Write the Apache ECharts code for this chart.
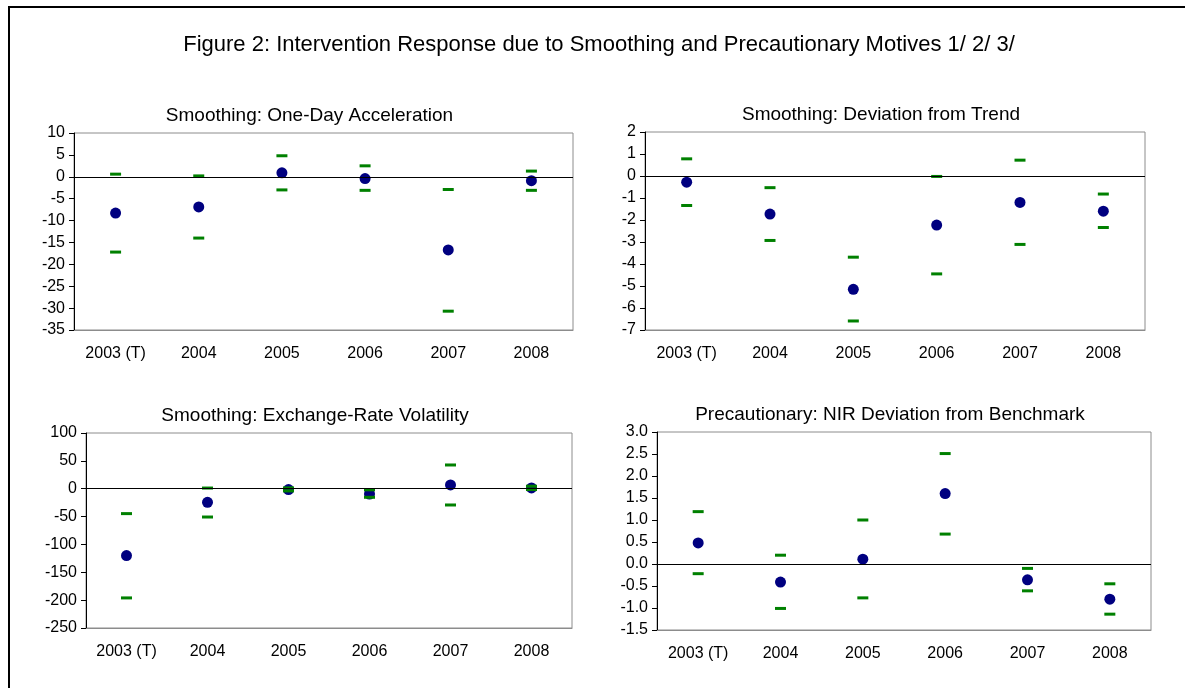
<!DOCTYPE html>
<html>
<head>
<meta charset="utf-8">
<title>Figure 2: Intervention Response</title>
<script src="https://cdn.jsdelivr.net/npm/echarts@6/dist/echarts.min.js"></script>
<style>
  html, body { margin: 0; padding: 0; background: #fff; }
  #chart { width: 1185px; height: 688px; }
</style>
</head>
<body>
<div id="chart"></div>
<script>
const years = ["2003 (T)", "2004", "2005", "2006", "2007", "2008"];

// Smoothing: One-Day Acceleration
const accelPoint = [-8.3, -6.9, 0.9, -0.4, -16.7, -0.9];
const accelUpper = [0.6, 0.2, 4.8, 2.5, -2.9, 1.3];
const accelLower = [-17.2, -14.0, -3.0, -3.1, -30.7, -3.1];

// Smoothing: Deviation from Trend
const trendPoint = [-0.28, -1.73, -5.15, -2.23, -1.2, -1.6];
const trendUpper = [0.78, -0.53, -3.69, -0.02, 0.72, -0.82];
const trendLower = [-1.34, -2.93, -6.59, -4.45, -3.11, -2.34];

// Smoothing: Exchange-Rate Volatility
const volPoint = [-120, -24.4, -1.5, -9.5, 6.7, 1.5];
const volUpper = [-44.7, 1.2, 1.5, -2, 42.6, 4.5];
const volLower = [-196, -50.8, -4, -15.4, -29.2, -1.5];

// Precautionary: NIR Deviation from Benchmark
const nirPoint = [0.48, -0.41, 0.11, 1.6, -0.36, -0.8];
const nirUpper = [1.19, 0.2, 1.0, 2.51, -0.1, -0.45];
const nirLower = [-0.22, -1.01, -0.77, 0.68, -0.61, -1.14];

const panels = [
  { title: "Smoothing: One-Day Acceleration", point: accelPoint, upper: accelUpper, lower: accelLower,
    min: -35, max: 10, interval: 5, digits: 0,
    grid: { left: 74, top: 133, width: 499, height: 197 } },
  { title: "Smoothing: Deviation from Trend", point: trendPoint, upper: trendUpper, lower: trendLower,
    min: -7, max: 2, interval: 1, digits: 0,
    grid: { left: 645, top: 132, width: 500, height: 198 } },
  { title: "Smoothing: Exchange-Rate Volatility", point: volPoint, upper: volUpper, lower: volLower,
    min: -250, max: 100, interval: 50, digits: 0,
    grid: { left: 86, top: 433, width: 486, height: 195 } },
  { title: "Precautionary: NIR Deviation from Benchmark", point: nirPoint, upper: nirUpper, lower: nirLower,
    min: -1.5, max: 3, interval: 0.5, digits: 1,
    grid: { left: 657, top: 432, width: 494, height: 198 } }
];

const FONT = "Liberation Sans, Arial, sans-serif";
const chart = echarts.init(document.getElementById("chart"), null, { renderer: "canvas" });

const grids = [];
const xAxes = [];
const yAxes = [];
const series = [];
const graphics = [
  {
    type: "rect",
    shape: { x: 9, y: 7, width: 1200, height: 700 },
    style: { fill: "none", stroke: "#000", lineWidth: 2 },
    silent: true
  },
  {
    type: "text",
    x: 599, y: 45,
    style: {
      text: "Figure 2: Intervention Response due to Smoothing and Precautionary Motives 1/ 2/ 3/",
      font: "22px " + FONT, fill: "#000", align: "center", verticalAlign: "middle"
    }
  }
];

panels.forEach((p, i) => {
  grids.push(Object.assign({
    show: true,
    borderColor: "#8c8c8c",
    borderWidth: 1,
    backgroundColor: "transparent",
    containLabel: false
  }, p.grid));

  // chart title is centred on the chart area, a bit left of the plot centre
  graphics.push({
    type: "text",
    x: p.grid.left + p.grid.width / 2 - 14,
    y: p.grid.top - 17,
    style: {
      text: p.title, font: "19px " + FONT, fill: "#000",
      align: "center", verticalAlign: "middle"
    }
  });

  xAxes.push({
    type: "category",
    gridIndex: i,
    data: years,
    boundaryGap: true,
    axisLine: { onZero: false, lineStyle: { color: "#8c8c8c", width: 1 } },
    axisTick: { show: false },
    axisLabel: { color: "#000", fontFamily: FONT, fontSize: 16, margin: 16 },
    splitLine: { show: false }
  });

  yAxes.push({
    type: "value",
    gridIndex: i,
    min: p.min,
    max: p.max,
    interval: p.interval,
    axisLine: { show: true, lineStyle: { color: "#000", width: 1 } },
    axisTick: { show: true, length: 5, lineStyle: { color: "#000" } },
    axisLabel: {
      color: "#000", fontFamily: FONT, fontSize: 16, margin: 9,
      formatter: (v) => v.toFixed(p.digits)
    },
    splitLine: { show: false }
  });

  series.push({
    type: "scatter",
    xAxisIndex: i,
    yAxisIndex: i,
    data: p.point,
    symbol: "circle",
    symbolSize: 11,
    itemStyle: { color: "#000080", opacity: 1 },
    z: 2,
    markLine: {
      silent: true,
      symbol: "none",
      label: { show: false },
      lineStyle: { color: "#000", width: 1, type: "solid" },
      data: [{ yAxis: 0 }]
    }
  });
  series.push({
    type: "scatter",
    xAxisIndex: i,
    yAxisIndex: i,
    data: p.upper,
    symbol: "rect",
    symbolSize: [11, 3],
    itemStyle: { color: "#008000", opacity: 1 },
    z: 3
  });
  series.push({
    type: "scatter",
    xAxisIndex: i,
    yAxisIndex: i,
    data: p.lower,
    symbol: "rect",
    symbolSize: [11, 3],
    itemStyle: { color: "#008000", opacity: 1 },
    z: 3
  });
});

chart.setOption({
  animation: false,
  backgroundColor: "#fff",
  grid: grids,
  xAxis: xAxes,
  yAxis: yAxes,
  series,
  graphic: graphics
});
</script>
</body>
</html>
